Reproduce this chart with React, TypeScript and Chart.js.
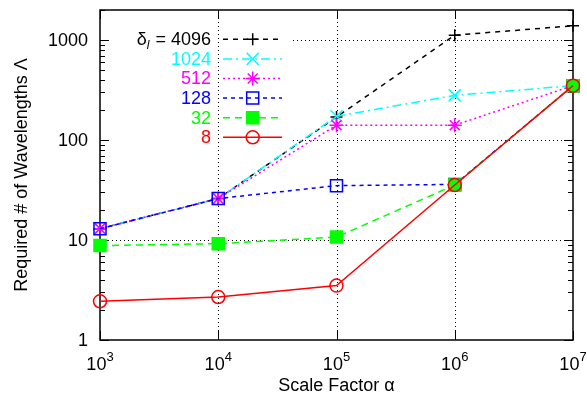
import React, { useEffect, useRef } from 'react';
import { Chart, registerables } from 'chart.js';

Chart.register(...registerables);

// ---- data ----
const SCALE_FACTORS = [1e3, 1e4, 1e5, 1e6, 1e7];
const DELTA_LABELS = ['4096', '1024', '512', '128', '32', '8'];
const LAMBDA_4096 = [13, 26, 170, 1120, 1390];
const LAMBDA_1024 = [13, 26, 173, 280, 350];
const LAMBDA_512 = [13, 26, 141, 141, 350];
const LAMBDA_128 = [13, 26, 35, 36, 350];
const LAMBDA_32 = [8.8, 9.2, 10.7, 35.5, 350];
const LAMBDA_8 = [2.44, 2.69, 3.5, 35.5, 350];
const Y_TICK_VALUES = [1, 10, 100, 1000];
const X_TICK_EXPONENTS = [3, 4, 5, 6, 7];
const Y_RANGE = [1, 2000];
const X_RANGE = [1e3, 1e7];
const X_TITLE = 'Scale Factor \u03b1';
const Y_TITLE = 'Required # of Wavelengths \u039b';

const SERIES_VALUES = [LAMBDA_4096, LAMBDA_1024, LAMBDA_512, LAMBDA_128, LAMBDA_32, LAMBDA_8];

// ---- styles ----
const FONT = '"Liberation Sans", Arial, Helvetica, sans-serif';
const STYLES = [
  { color: '#000000', dash: [5, 5], point: 'cross', radius: 6, fill: 'rgba(0,0,0,0)' },
  { color: '#00ffff', dash: [9, 4, 2, 4], point: 'crossRot', radius: 8.5, fill: 'rgba(0,0,0,0)' },
  { color: '#ff00ff', dash: [2, 3], point: 'star', radius: 7, fill: 'rgba(0,0,0,0)' },
  { color: '#0000ff', dash: [4, 4], point: 'rect', radius: 8.5, fill: 'rgba(0,0,0,0)' },
  { color: '#00ff00', dash: [7, 5], point: 'rect', radius: 8.5, fill: '#00ff00' },
  { color: '#ff0000', dash: [], point: 'circle', radius: 6.5, fill: 'rgba(0,0,0,0)' },
];

function drawMarker(ctx: CanvasRenderingContext2D, style: string, x: number, y: number, r: number, fill: string) {
  ctx.beginPath();
  const d = r * Math.SQRT1_2;
  if (style === 'cross') {
    ctx.moveTo(x - r, y); ctx.lineTo(x + r, y);
    ctx.moveTo(x, y - r); ctx.lineTo(x, y + r);
  } else if (style === 'crossRot') {
    ctx.moveTo(x - d, y - d); ctx.lineTo(x + d, y + d);
    ctx.moveTo(x - d, y + d); ctx.lineTo(x + d, y - d);
  } else if (style === 'star') {
    ctx.moveTo(x - r, y); ctx.lineTo(x + r, y);
    ctx.moveTo(x, y - r); ctx.lineTo(x, y + r);
    ctx.moveTo(x - d, y - d); ctx.lineTo(x + d, y + d);
    ctx.moveTo(x - d, y + d); ctx.lineTo(x + d, y - d);
  } else if (style === 'rect') {
    ctx.rect(x - d, y - d, 2 * d, 2 * d);
    ctx.fillStyle = fill; ctx.fill();
  } else if (style === 'circle') {
    ctx.arc(x, y, r, 0, Math.PI * 2);
    ctx.fillStyle = fill; ctx.fill();
  }
  ctx.stroke();
}

const KEY = { textRight: 211, lineX0: 223, lineX1: 282, markX: 252.7, rowY0: 39.3, rowDy: 19.6, gridSkipTop: 28, gridSkipBottom: 148, gridSkipRight: 293 };

const gnuplotDecor = {
  id: 'gnuplotDecor',
  beforeDatasetsDraw(chart: any) {
    const { ctx, chartArea: a } = chart;
    const xs = chart.scales.x;
    const ys = chart.scales.y;
    ctx.save();

    // grid
    ctx.strokeStyle = '#000';
    ctx.lineWidth = 1;
    ctx.setLineDash([1, 3]);
    X_TICK_EXPONENTS.forEach((e) => {
      const px = Math.round(xs.getPixelForValue(Math.pow(10, e))) + 0.5;
      if (px <= a.left + 2 || px >= a.right - 2) return;
      ctx.beginPath(); ctx.moveTo(px, a.top); ctx.lineTo(px, a.bottom); ctx.stroke();
    });
    Y_TICK_VALUES.forEach((v) => {
      const py = Math.round(ys.getPixelForValue(v)) + 0.5;
      if (py >= a.bottom - 2 || py <= a.top + 2) return;
      let x0 = a.left;
      if (py > KEY.gridSkipTop && py < KEY.gridSkipBottom) x0 = KEY.gridSkipRight;
      ctx.beginPath(); ctx.moveTo(x0, py); ctx.lineTo(a.right, py); ctx.stroke();
    });
    ctx.setLineDash([]);

    // ticks
    ctx.lineWidth = 1;
    const majLen = 9, minLen = 5;
    const decades = [0, 1, 2, 3];
    decades.forEach((dec) => {
      for (let m = 1; m <= 9; m++) {
        const v = m * Math.pow(10, dec);
        if (v < Y_RANGE[0] || v > Y_RANGE[1]) continue;
        const py = Math.round(ys.getPixelForValue(v)) + 0.5;
        const len = m === 1 ? majLen : minLen;
        ctx.beginPath();
        ctx.moveTo(a.left, py); ctx.lineTo(a.left + len, py);
        ctx.moveTo(a.right, py); ctx.lineTo(a.right - len, py);
        ctx.stroke();
      }
    });
    X_TICK_EXPONENTS.forEach((e) => {
      const px = Math.round(xs.getPixelForValue(Math.pow(10, e))) + 0.5;
      ctx.beginPath();
      ctx.moveTo(px, a.bottom); ctx.lineTo(px, a.bottom - majLen);
      ctx.moveTo(px, a.top); ctx.lineTo(px, a.top + majLen);
      ctx.stroke();
    });

    // frame
    ctx.lineWidth = 1.5;
    ctx.strokeRect(a.left, a.top, a.right - a.left, a.bottom - a.top);

    // tick labels
    ctx.fillStyle = '#000';
    ctx.font = `18px ${FONT}`;
    ctx.textAlign = 'right';
    ctx.textBaseline = 'middle';
    Y_TICK_VALUES.forEach((v) => {
      ctx.fillText(String(v), a.left - 12, ys.getPixelForValue(v) + 1);
    });
    ctx.textAlign = 'left';
    ctx.textBaseline = 'alphabetic';
    X_TICK_EXPONENTS.forEach((e) => {
      const px = xs.getPixelForValue(Math.pow(10, e));
      ctx.font = `18px ${FONT}`;
      const w1 = ctx.measureText('10').width;
      ctx.font = `13px ${FONT}`;
      const w2 = ctx.measureText(String(e)).width;
      const x0 = px - (w1 + w2) / 2;
      ctx.font = `18px ${FONT}`;
      ctx.fillText('10', x0, a.bottom + 30);
      ctx.font = `13px ${FONT}`;
      ctx.fillText(String(e), x0 + w1, a.bottom + 21);
    });

    // axis titles
    ctx.font = `18px ${FONT}`;
    ctx.textAlign = 'center';
    ctx.textBaseline = 'alphabetic';
    ctx.fillText(X_TITLE, (a.left + a.right) / 2, 391);
    ctx.save();
    ctx.translate(27, (a.top + a.bottom) / 2);
    ctx.rotate(-Math.PI / 2);
    ctx.fillText(Y_TITLE, 0, 0);
    ctx.restore();

    // key
    DELTA_LABELS.forEach((lab, i) => {
      const st = STYLES[i];
      const cy = KEY.rowY0 + i * KEY.rowDy;
      ctx.fillStyle = st.color;
      ctx.textBaseline = 'middle';
      ctx.textAlign = 'left';
      if (i === 0) {
        ctx.font = `18px ${FONT}`;
        const wd = ctx.measureText('\u03b4').width;
        const wr = ctx.measureText(' = ' + lab).width;
        ctx.font = `italic 12px ${FONT}`;
        const wl = ctx.measureText('l').width + 1;
        const x0 = KEY.textRight - (wd + wl + wr);
        ctx.font = `18px ${FONT}`;
        ctx.fillText('\u03b4', x0, cy + 1);
        ctx.font = `italic 12px ${FONT}`;
        ctx.fillText('l', x0 + wd, cy + 6);
        ctx.font = `18px ${FONT}`;
        ctx.fillText(' = ' + lab, x0 + wd + wl, cy + 1);
      } else {
        ctx.font = `18px ${FONT}`;
        ctx.textAlign = 'right';
        ctx.fillText(lab, KEY.textRight, cy + 1);
      }
      ctx.strokeStyle = st.color;
      ctx.lineWidth = 1.5;
      ctx.setLineDash(st.dash);
      ctx.beginPath(); ctx.moveTo(KEY.lineX0, cy); ctx.lineTo(KEY.lineX1, cy); ctx.stroke();
      ctx.setLineDash([]);
      drawMarker(ctx, st.point, KEY.markX, cy, st.radius, st.fill);
    });

    ctx.restore();
  },
};

export default function App() {
  const ref = useRef<HTMLCanvasElement>(null);
  useEffect(() => {
    const datasets = SERIES_VALUES.map((vals, i) => {
      const st = STYLES[i];
      return {
        label: DELTA_LABELS[i],
        data: SCALE_FACTORS.map((x, j) => ({ x, y: vals[j] })),
        borderColor: st.color,
        borderWidth: 1.5,
        borderDash: st.dash,
        pointStyle: st.point,
        pointRadius: st.radius,
        pointHoverRadius: st.radius,
        pointBorderWidth: 1.5,
        pointBorderColor: st.color,
        pointBackgroundColor: st.fill,
        backgroundColor: st.fill,
        fill: false,
        tension: 0,
        clip: false,
        order: SERIES_VALUES.length - i,
      };
    });
    const chart = new Chart(ref.current as HTMLCanvasElement, {
      type: 'line',
      data: { datasets } as any,
      options: {
        animation: false,
        responsive: false,
        devicePixelRatio: 1,
        events: [],
        layout: { padding: { left: 100, right: 14, top: 8, bottom: 62 } },
        plugins: { legend: { display: false }, tooltip: { enabled: false } },
        scales: {
          x: { type: 'logarithmic', min: X_RANGE[0], max: X_RANGE[1], display: false },
          y: { type: 'logarithmic', min: Y_RANGE[0], max: Y_RANGE[1], display: false },
        },
      } as any,
      plugins: [gnuplotDecor],
    });
    return () => chart.destroy();
  }, []);
  return (
    <div style={{ position: 'fixed', left: 0, top: 0, width: 587, height: 402, background: '#fff' }}>
      <canvas ref={ref} width={587} height={402} style={{ display: 'block', width: 587, height: 402 }} />
    </div>
  );
}
